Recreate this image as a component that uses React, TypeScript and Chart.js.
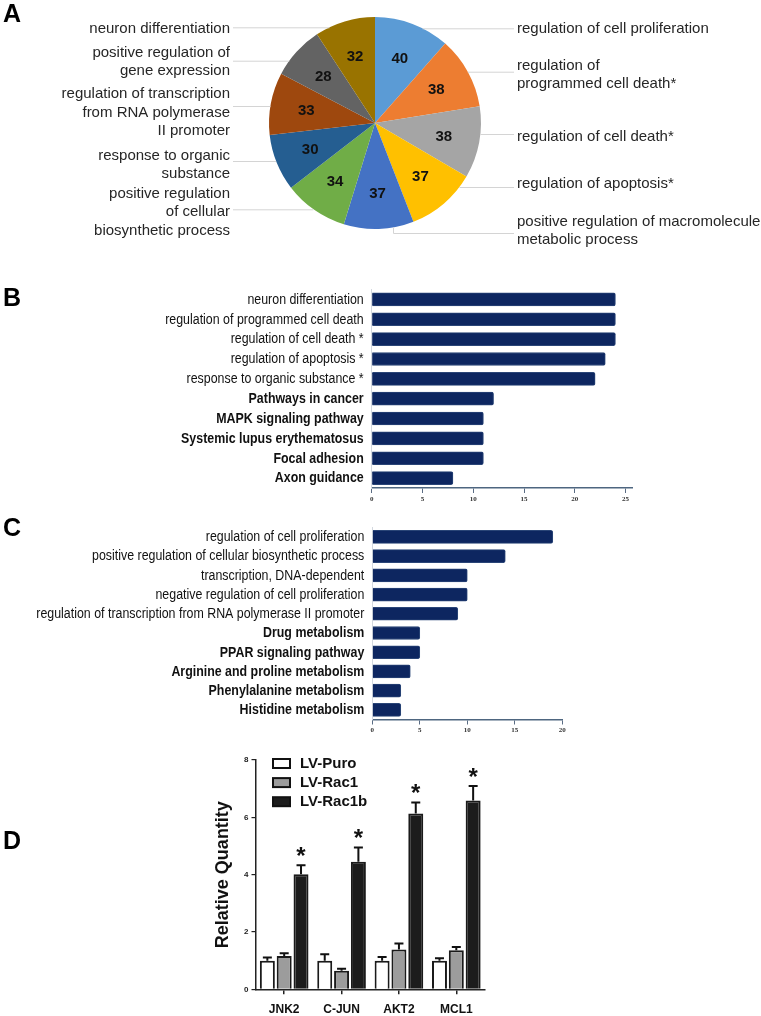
import React, { useEffect, useRef } from "react";
import { Chart, registerables } from "chart.js";

Chart.register(...registerables);
Chart.defaults.font.family = '"Liberation Sans", Arial, sans-serif';

// ---------------- Panel A data ----------------
const pieCategories = [
  "regulation of cell proliferation",
  "regulation of programmed cell death*",
  "regulation of cell death*",
  "regulation of apoptosis*",
  "positive regulation of macromolecule metabolic process",
  "positive regulation of cellular biosynthetic process",
  "response to organic substance",
  "regulation of transcription from RNA polymerase II promoter",
  "positive regulation of gene expression",
  "neuron differentiation",
];
const pieValues = [40, 38, 38, 37, 37, 34, 30, 33, 28, 32];
const pieLabelLines = [
  ["regulation of cell proliferation"],
  ["regulation of", "programmed cell death*"],
  ["regulation of cell death*"],
  ["regulation of apoptosis*"],
  ["positive regulation of macromolecule", "metabolic process"],
  ["positive regulation", "of cellular", "biosynthetic process"],
  ["response to organic", "substance"],
  ["regulation of transcription", "from RNA polymerase", "II promoter"],
  ["positive regulation of", "gene expression"],
  ["neuron differentiation"],
];
const pieColors = [
  "#5B9BD5", "#ED7D31", "#A5A5A5", "#FFC000", "#4472C4",
  "#70AD47", "#255E91", "#9E480E", "#636363", "#997300",
];

// ---------------- Panel B data ----------------
const termsB = [
  "neuron differentiation",
  "regulation of programmed cell death",
  "regulation of cell death *",
  "regulation of apoptosis *",
  "response to organic substance *",
  "Pathways in cancer",
  "MAPK signaling pathway",
  "Systemic lupus erythematosus",
  "Focal adhesion",
  "Axon guidance",
];
const countsB = [24, 24, 24, 23, 22, 12, 11, 11, 11, 8];
const ticksB = [0, 5, 10, 15, 20, 25];

// ---------------- Panel C data ----------------
const termsC = [
  "regulation of cell proliferation",
  "positive regulation of cellular biosynthetic process",
  "transcription, DNA-dependent",
  "negative regulation of cell proliferation",
  "regulation of transcription from RNA polymerase II promoter",
  "Drug metabolism",
  "PPAR signaling pathway",
  "Arginine and proline metabolism",
  "Phenylalanine metabolism",
  "Histidine metabolism",
];
const countsC = [19, 14, 10, 10, 9, 5, 5, 4, 3, 3];
const ticksC = [0, 5, 10, 15, 20];

// ---------------- Panel D data ----------------
const genes = ["JNK2", "C-JUN", "AKT2", "MCL1"];
const seriesNames = ["LV-Puro", "LV-Rac1", "LV-Rac1b"];
const puroValues = [1.0, 1.0, 1.0, 1.0];
const puroErrors = [0.11, 0.22, 0.13, 0.08];
const rac1Values = [1.16, 0.65, 1.39, 1.36];
const rac1Errors = [0.1, 0.07, 0.21, 0.12];
const rac1bValues = [4.01, 4.45, 6.13, 6.59];
const rac1bErrors = [0.32, 0.5, 0.39, 0.5];
const rac1bSignificant = [true, true, true, true];
const quantityTicks = [0, 2, 4, 6, 8];

// ---------------- layout / style (not data) ----------------
const SANS = '"Liberation Sans", Arial, sans-serif';
const NAVY = "#0d2660";
const KEGG_FROM = 5; // rows from this index are KEGG pathways (bold)

const pieLabelLayout = [
  { side: "right", textY: [29.3], lineY: 28.3 },
  { side: "right", textY: [65.7, 84], lineY: 71.7 },
  { side: "right", textY: [136.7], lineY: 134 },
  { side: "right", textY: [184.3], lineY: 187 },
  { side: "right", textY: [221.7, 240], lineY: 233, elbowX: 393 },
  { side: "left", textY: [194, 212.3, 230.6], lineY: 209.3 },
  { side: "left", textY: [156, 174], lineY: 161 },
  { side: "left", textY: [94.3, 112.7, 131], lineY: 106 },
  { side: "left", textY: [53.3, 71], lineY: 60.7 },
  { side: "left", textY: [29], lineY: 27.3 },
];

const piePlugin = {
  id: "pieLabels",
  afterDatasetsDraw(chart: any) {
    const ctx = chart.ctx;
    const meta = chart.getDatasetMeta(0);
    ctx.save();
    meta.data.forEach((arc: any, i: number) => {
      const p = arc.getProps(["x", "y", "startAngle", "endAngle", "outerRadius"], true);
      const R = p.outerRadius;
      const lay = pieLabelLayout[i];
      ctx.strokeStyle = "#d4d4d4";
      ctx.lineWidth = 1;
      ctx.beginPath();
      if (lay.elbowX !== undefined) {
        const ex = lay.elbowX;
        const ey = p.y + Math.sqrt(Math.max(R * R - (ex - p.x) * (ex - p.x), 0));
        ctx.moveTo(ex + 0.5, ey);
        ctx.lineTo(ex + 0.5, lay.lineY + 0.5);
        ctx.lineTo(514, lay.lineY + 0.5);
      } else {
        const dy = lay.lineY - p.y;
        const dx = Math.sqrt(Math.max(R * R - dy * dy, 0));
        if (lay.side === "left") {
          ctx.moveTo(233, lay.lineY + 0.5);
          ctx.lineTo(p.x - dx, lay.lineY + 0.5);
        } else {
          ctx.moveTo(p.x + dx, lay.lineY + 0.5);
          ctx.lineTo(514, lay.lineY + 0.5);
        }
      }
      ctx.stroke();
      ctx.fillStyle = "#262626";
      ctx.font = "15px " + SANS;
      ctx.textBaseline = "middle";
      ctx.textAlign = lay.side === "left" ? "right" : "left";
      const tx = lay.side === "left" ? 230 : 517;
      pieLabelLines[i].forEach((line, k) => ctx.fillText(line, tx, lay.textY[k]));
      const mid = (p.startAngle + p.endAngle) / 2;
      const r = R * 0.66;
      ctx.fillStyle = "#111";
      ctx.font = "bold 15px " + SANS;
      ctx.textAlign = "center";
      ctx.fillText(String(pieValues[i]), p.x + r * Math.cos(mid), p.y + r * Math.sin(mid) + 1);
    });
    ctx.restore();
  },
};

function makePie() {
  return {
    type: "pie",
    data: {
      labels: pieCategories,
      datasets: [{ data: pieValues, backgroundColor: pieColors, borderWidth: 0, hoverOffset: 0 }],
    },
    options: {
      responsive: false,
      animation: false,
      layout: { autoPadding: false, padding: { left: 269, right: 280, top: 17, bottom: 21 } },
      plugins: { legend: { display: false }, tooltip: { enabled: false } },
    },
    plugins: [piePlugin],
  };
}

// Condensed (narrow) category labels: Chart.js places them, drawn compressed horizontally.
const narrowLabelPlugin = {
  id: "narrowLabels",
  afterDraw(chart: any) {
    const ctx = chart.ctx;
    const ys = chart.scales.y;
    const labels = chart.data.labels;
    const x = chart.chartArea.left - 8;
    ctx.save();
    ctx.fillStyle = "#111";
    ctx.textAlign = "right";
    ctx.textBaseline = "middle";
    labels.forEach((lab: string, i: number) => {
      const y = ys.getPixelForTick(i);
      ctx.save();
      ctx.translate(x, y);
      ctx.scale(0.8, 1);
      ctx.font = (i >= KEGG_FROM ? "bold " : "") + "15.5px " + SANS;
      ctx.fillText(lab, 0, 0);
      ctx.restore();
    });
    ctx.restore();
  },
};

function makeHBar(terms: string[], counts: number[], ticks: number[], max: number, o: any) {
  return {
    type: "bar",
    data: {
      labels: terms,
      datasets: [{ data: counts, backgroundColor: NAVY, borderColor: "#2a4577", borderWidth: 1, barThickness: 13, borderRadius: 2, borderSkipped: "start" }],
    },
    options: {
      indexAxis: "y",
      responsive: false,
      animation: false,
      layout: { autoPadding: false, padding: { left: 0, right: o.right, top: o.top, bottom: 0 } },
      plugins: { legend: { display: false }, tooltip: { enabled: false } },
      scales: {
        x: {
          type: "linear",
          min: 0,
          max,
          afterBuildTicks: (s: any) => { s.ticks = ticks.map((v) => ({ value: v })); },
          afterFit: (s: any) => { s.height = o.xh; },
          grid: { drawOnChartArea: false, drawTicks: true, tickLength: 5, color: "#5a6c84" },
          border: { color: "#4e6680", width: 1.5 },
          ticks: { font: { family: '"Liberation Serif", serif', size: 7, weight: "bold" }, color: "#333", padding: o.tp, maxRotation: 0 },
        },
        y: {
          afterFit: (s: any) => { s.width = o.left; },
          grid: { display: false, drawTicks: false },
          border: { display: true, color: "#d3d8df", width: 1 },
          ticks: { display: false, autoSkip: false },
        },
      },
    },
    plugins: [narrowLabelPlugin],
  };
}

const errorSeries = [puroErrors, rac1Errors, rac1bErrors];

const errorPlugin = {
  id: "errorBars",
  afterDatasetsDraw(chart: any) {
    const ctx = chart.ctx;
    const ys = chart.scales.y;
    ctx.save();
    chart.data.datasets.forEach((ds: any, di: number) => {
      const meta = chart.getDatasetMeta(di);
      meta.data.forEach((bar: any, i: number) => {
        const top = ys.getPixelForValue(ds.data[i] + errorSeries[di][i]);
        ctx.strokeStyle = "#111";
        ctx.lineWidth = 2;
        ctx.beginPath();
        ctx.moveTo(bar.x, bar.y);
        ctx.lineTo(bar.x, top);
        ctx.moveTo(bar.x - 4.5, top);
        ctx.lineTo(bar.x + 4.5, top);
        ctx.stroke();
        if (di === 2 && rac1bSignificant[i]) {
          ctx.fillStyle = "#111";
          ctx.font = "bold 24px " + SANS;
          ctx.textAlign = "center";
          ctx.textBaseline = "alphabetic";
          ctx.fillText("*", bar.x, top - 1);
        }
      });
    });
    ctx.restore();
  },
};

const legendPlugin = {
  id: "insideLegend",
  afterDraw(chart: any) {
    const ctx = chart.ctx;
    const { left, top } = chart.chartArea;
    ctx.save();
    chart.data.datasets.forEach((ds: any, i: number) => {
      const cy = top + 3.5 + i * 19.1;
      ctx.fillStyle = ds.backgroundColor;
      ctx.fillRect(left + 17.5, cy - 4.5, 17, 9);
      ctx.strokeStyle = "#111";
      ctx.lineWidth = 2;
      ctx.strokeRect(left + 17.5, cy - 4.5, 17, 9);
      ctx.fillStyle = "#111";
      ctx.font = "bold 15px " + SANS;
      ctx.textAlign = "left";
      ctx.textBaseline = "middle";
      ctx.fillText(ds.label, left + 44.5, cy + 0.5);
    });
    ctx.restore();
  },
};

function makeQ() {
  const common = { borderColor: "#1a1a1a", borderWidth: 2, categoryPercentage: 0.88, barPercentage: 0.89 };
  return {
    type: "bar",
    data: {
      labels: genes,
      datasets: [
        { label: seriesNames[0], data: puroValues, backgroundColor: "#ffffff", ...common },
        { label: seriesNames[1], data: rac1Values, backgroundColor: "#9c9c9c", ...common },
        { label: seriesNames[2], data: rac1bValues, backgroundColor: "#1c1c1c", ...common },
      ],
    },
    options: {
      responsive: false,
      animation: false,
      layout: { autoPadding: false, padding: { left: 32.2, right: 75, top: 20, bottom: 0 } },
      plugins: { legend: { display: false }, tooltip: { enabled: false } },
      scales: {
        x: {
          afterFit: (s: any) => { s.height = 26.7; },
          grid: { offset: false, drawOnChartArea: false, tickLength: 5, color: "#222", lineWidth: 1.5 },
          border: { color: "#222", width: 1.5 },
          ticks: { font: { size: 12, weight: "bold" }, color: "#111", padding: 8.5 },
        },
        y: {
          min: 0,
          max: 8,
          afterBuildTicks: (s: any) => { s.ticks = quantityTicks.map((v) => ({ value: v })); },
          afterFit: (s: any) => { s.width = 43.3; },
          grid: { drawOnChartArea: false, tickLength: 4, color: "#222", lineWidth: 1.2 },
          border: { color: "#222", width: 1.5 },
          ticks: { font: { size: 8, weight: "bold" }, color: "#222", padding: 3 },
          title: { display: true, text: "Relative Quantity", font: { size: 18, weight: "bold" }, color: "#111", padding: { top: 0, bottom: 0 } },
        },
      },
    },
    plugins: [errorPlugin, legendPlugin],
  };
}

function ChartBox(props: { left: number; top: number; width: number; height: number; make: () => any }) {
  const ref = useRef<HTMLCanvasElement>(null);
  useEffect(() => {
    const chart = new Chart(ref.current as HTMLCanvasElement, props.make());
    return () => chart.destroy();
  }, []);
  return (
    <canvas
      ref={ref}
      width={props.width}
      height={props.height}
      style={{ position: "absolute", left: props.left, top: props.top, width: props.width, height: props.height }}
    />
  );
}

function Letter(props: { ch: string; top: number }) {
  return (
    <div
      style={{
        position: "absolute",
        left: 3,
        top: props.top,
        font: "bold 25px " + SANS,
        lineHeight: "25px",
        color: "#000",
      }}
    >
      {props.ch}
    </div>
  );
}

export default function App() {
  return (
    <div style={{ position: "absolute", left: 0, top: 0, width: 761, height: 1016, background: "#fff", overflow: "hidden" }}>
      <ChartBox left={0} top={0} width={761} height={250} make={makePie} />
      <ChartBox
        left={0}
        top={280}
        width={761}
        height={232}
        make={() => makeHBar(termsB, countsB, ticksB, 25.7, { left: 371.7, right: 128.3, top: 9.5, xh: 24, tp: 2 })}
      />
      <ChartBox
        left={0}
        top={515}
        width={761}
        height={230}
        make={() => makeHBar(termsC, countsC, ticksC, 20, { left: 372.3, right: 198.7, top: 12.3, xh: 25.5, tp: 1.3 })}
      />
      <ChartBox left={180} top={740} width={380} height={276} make={makeQ} />
      <Letter ch="A" top={1} />
      <Letter ch="B" top={285} />
      <Letter ch="C" top={515} />
      <Letter ch="D" top={828} />
    </div>
  );
}
